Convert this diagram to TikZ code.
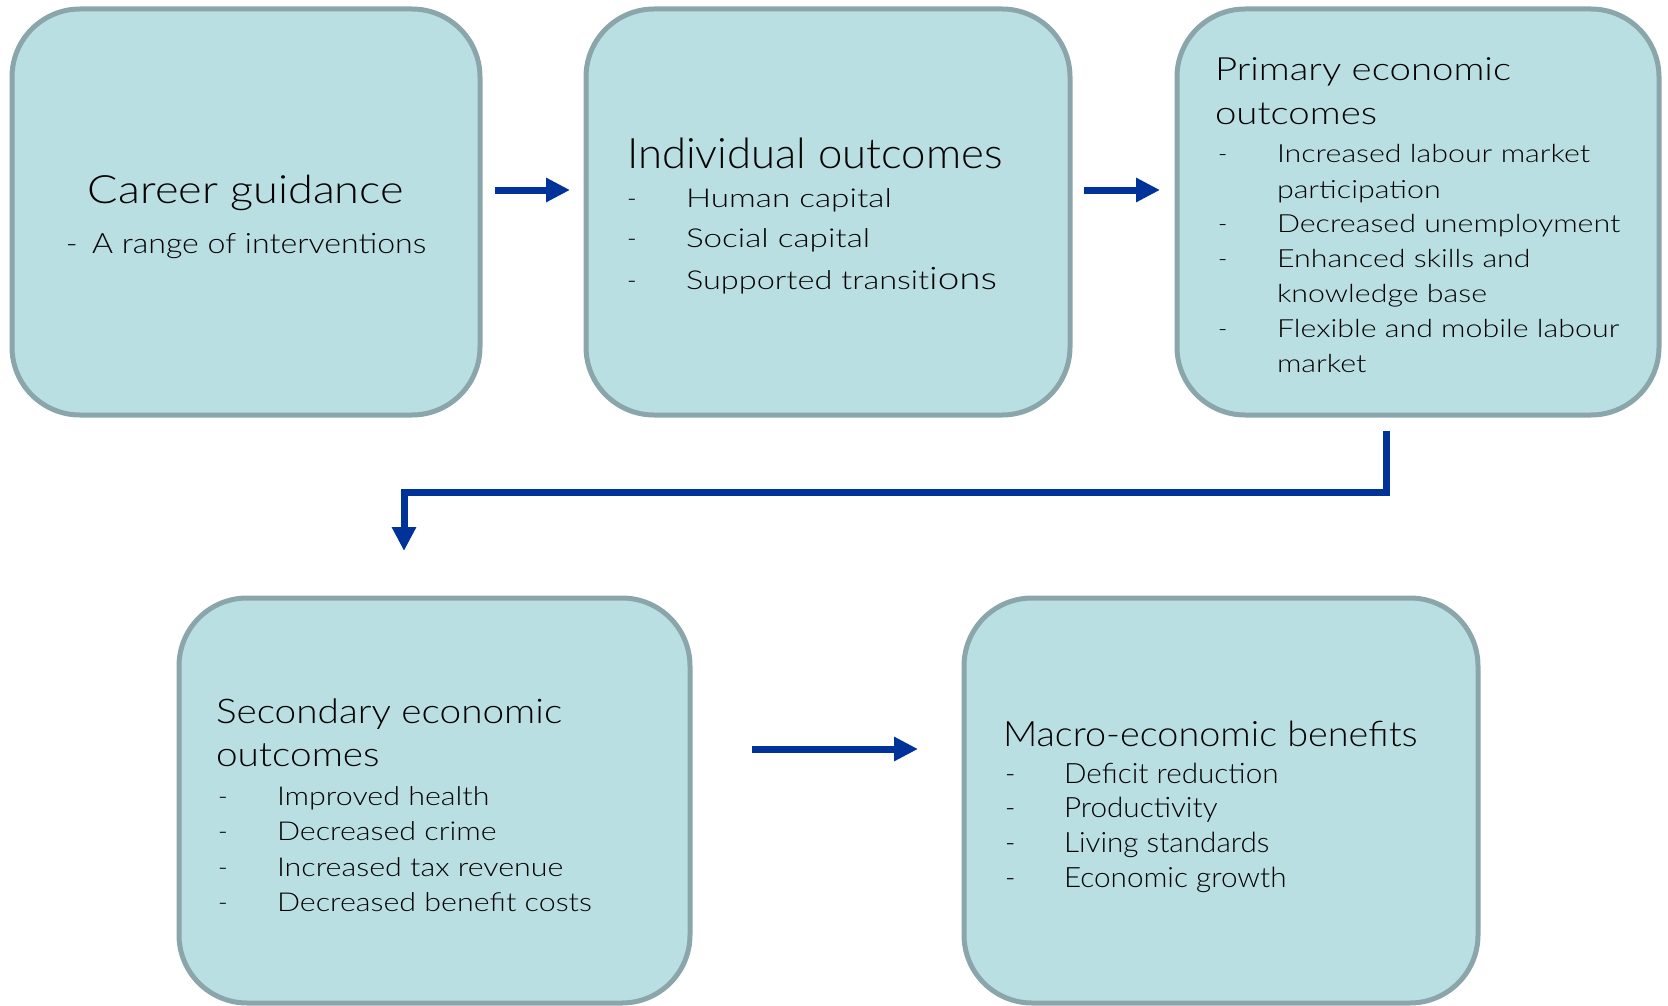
\documentclass[tikz,border=0pt]{standalone}
\usepackage{fontspec}
\usepackage{graphicx}
\setmainfont{Lato}[UprightFont=* Light]
\usetikzlibrary{arrows.meta}
\definecolor{boxfill}{RGB}{186,223,227}
\definecolor{boxline}{RGB}{139,166,170}
\definecolor{arrowblue}{RGB}{0,51,153}
\newcommand{\fs}[1]{\fontsize{#1}{#1}\selectfont}
\newcommand{\sx}[2]{\scalebox{#1}[1]{#2}}
\tikzset{
  box/.style={draw=boxline, fill=boxfill, line width=5pt, rounded corners=68pt,
    inner sep=0pt, outer sep=0pt, anchor=north west},
  txt/.style={inner sep=0pt, outer sep=0pt, anchor=base west, text=black},
  ctxt/.style={inner sep=0pt, outer sep=0pt, anchor=base, text=black},
  conn/.style={draw=arrowblue, line width=7pt, line join=miter,
    -{Triangle[length=24pt,width=23pt]}},
}
\begin{document}
\begin{tikzpicture}[x=1pt,y=-1pt]
\useasboundingbox (0,0) rectangle (1668,1006);
% boxes
\node[box, minimum width=468pt, minimum height=406pt] (b1) at (12,9) {};
\node[box, minimum width=484pt, minimum height=406pt] (b2) at (586,9) {};
\node[box, minimum width=482pt, minimum height=406pt] (b3) at (1177,9) {};
\node[box, minimum width=511pt, minimum height=405pt] (b4) at (179,598) {};
\node[box, minimum width=514pt, minimum height=405pt] (b5) at (964,598) {};
% box 1
\node[ctxt] (t1a) at (246,203) {\fs{39}\sx{1.157}{Career guidance}};
\node[ctxt] (t1b) at (246,253) {\fs{28}\sx{1.146}{-\hspace{0.45em}A range of interventions}};
% box 2
\node[txt] (t2h) at (627,168) {\fs{42}\sx{1.04}{Individual outcomes}};
\node[txt] (t2d1) at (627,207) {\fs{26}-};
\node[txt] (t2i1) at (686,207) {\fs{26}\sx{1.28}{Human capital}};
\node[txt] (t2d2) at (627,247) {\fs{26}-};
\node[txt] (t2i2) at (686,247) {\fs{26}\sx{1.28}{Social capital}};
\node[txt] (t2d3) at (627,289) {\fs{26}-};
\node[txt] (t2i3) at (686,289) {\fs{26}\sx{1.25}{Supported transit{\fs{31}ions}}};
% box 3
\node[txt] (t3h1) at (1215,81) {\fs{32}\sx{1.2}{Primary economic}};
\node[txt] (t3h2) at (1215,125) {\fs{32}\sx{1.2}{outcomes}};
\node[txt] (t3d1) at (1218,163) {\fs{25}-};
\node[txt] (t3i1) at (1277,163) {\fs{25}\sx{1.215}{Increased labour market}};
\node[txt] (t3i1b) at (1277,198) {\fs{25}\sx{1.215}{participation}};
\node[txt] (t3d2) at (1218,232) {\fs{25}-};
\node[txt] (t3i2) at (1277,232) {\fs{25}\sx{1.215}{Decreased unemployment}};
\node[txt] (t3d3) at (1218,267) {\fs{25}-};
\node[txt] (t3i3) at (1277,267) {\fs{25}\sx{1.215}{Enhanced skills and}};
\node[txt] (t3i3b) at (1277,302) {\fs{25}\sx{1.215}{knowledge base}};
\node[txt] (t3d4) at (1218,337) {\fs{25}-};
\node[txt] (t3i4) at (1277,337) {\fs{25}\sx{1.215}{Flexible and mobile labour}};
\node[txt] (t3i4b) at (1277,372) {\fs{25}\sx{1.215}{market}};
% box 4
\node[txt] (t4h1) at (216,723) {\fs{34}\sx{1.14}{Secondary economic}};
\node[txt] (t4h2) at (216,766) {\fs{34}\sx{1.14}{outcomes}};
\node[txt] (t4d1) at (218,805) {\fs{26}-};
\node[txt] (t4i1) at (277,805) {\fs{26}\sx{1.17}{Improved health}};
\node[txt] (t4d2) at (218,840) {\fs{26}-};
\node[txt] (t4i2) at (277,840) {\fs{26}\sx{1.17}{Decreased crime}};
\node[txt] (t4d3) at (218,876) {\fs{26}-};
\node[txt] (t4i3) at (277,876) {\fs{26}\sx{1.17}{Increased tax revenue}};
\node[txt] (t4d4) at (218,911) {\fs{26}-};
\node[txt] (t4i4) at (277,911) {\fs{26}\sx{1.17}{Decreased benefit costs}};
% box 5
\node[txt] (t5h) at (1003,746) {\fs{35}\sx{1.08}{Macro-economic benefits}};
\node[txt] (t5d1) at (1005,783) {\fs{28}-};
\node[txt] (t5i1) at (1064,783) {\fs{28}\sx{1.06}{Deficit reduction}};
\node[txt] (t5d2) at (1005,817) {\fs{28}-};
\node[txt] (t5i2) at (1064,817) {\fs{28}\sx{1.06}{Productivity}};
\node[txt] (t5d3) at (1005,852) {\fs{28}-};
\node[txt] (t5i3) at (1064,852) {\fs{28}\sx{1.06}{Living standards}};
\node[txt] (t5d4) at (1005,887) {\fs{28}-};
\node[txt] (t5i4) at (1064,887) {\fs{28}\sx{1.06}{Economic growth}};
% connectors
\draw[conn, shorten <=15pt, shorten >=16pt] (b1.east |- 0,190) -- (b2.west |- 0,190);
\draw[conn, shorten <=14pt, shorten >=17pt] (b2.east |- 0,190) -- (b3.west |- 0,190);
\draw[conn, shorten <=16pt, shorten >=47pt] (b3.south -| 1386,0) -- (1386,492) -| (b4.north -| 404,0);
\draw[conn, shorten <=62pt, shorten >=46pt] (b4.east |- 0,749) -- (b5.west |- 0,749);
\end{tikzpicture}
\end{document}
